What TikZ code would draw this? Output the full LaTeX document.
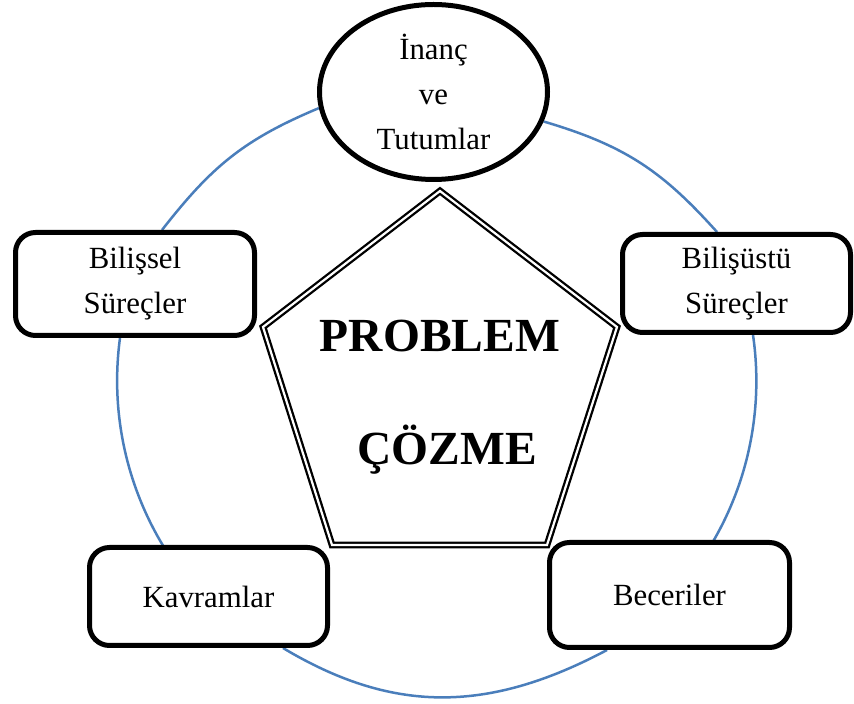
\documentclass[tikz,border=0pt]{standalone}
\usepackage{fontspec}
\setmainfont{Liberation Serif}
\usetikzlibrary{shapes.geometric}
\definecolor{arcblue}{RGB}{74,126,187}
\pgfdeclarelayer{background}
\pgfsetlayers{background,main}
\begin{document}
\begin{tikzpicture}[x=1pt,y=1pt,
  lbl/.style={font=\fontsize{30.8}{45}\selectfont, align=center},
  box/.style={lbl, draw=black, line width=5pt, rounded corners=20pt, fill=white, inner sep=0pt},
  oval/.style={lbl, ellipse, draw=black, line width=5pt, fill=white, inner sep=0pt, minimum width=228pt, minimum height=175pt},
  cyc/.style={draw=arcblue, line width=2.5pt},
  pent/.style={draw=black, line width=2.3pt, double=white, double distance=2.2pt},
  big/.style={font=\bfseries\fontsize{47.5}{57}\selectfont, inner sep=0pt}]
\useasboundingbox (0,0) rectangle (854,704);

\node[oval] (ell) at (433.5,612) {İnanç\\ve\\Tutumlar};
\node[box, minimum width=239pt, minimum height=103pt] (bis) at (135,420) {Bilişsel\\Süreçler};
\node[box, minimum width=228pt, minimum height=98pt] (bisu) at (736.5,420.5) {Bilişüstü\\Süreçler};
\node[box, minimum width=238pt, minimum height=98pt] (kav) at (208.5,107.5) {Kavramlar};
\node[box, minimum width=240pt, minimum height=105pt] (bec) at (669.5,109) {Beceriler};

\node[big, anchor=base] (prob) at (440,352) {PROBLEM};
\node[big, anchor=base] (coz) at (447,239) {ÇÖZME};

\begin{pgfonlayer}{background}
\draw[pent] (440,513) -- (617,377) -- (547,159) -- (332,159) -- (263,377) -- cycle;
\draw[cyc] (ell.188) .. controls (242.8,564) and (211.3,537) .. ([xshift=27pt]bis.north);
\draw[cyc] (ell.-15) .. controls (626.9,558) and (663.5,531.5) .. ([xshift=-19.5pt]bisu.north);
\draw[cyc] ([xshift=-15pt]bis.south) arc[start angle=172.3, end angle=212, radius=319];
\draw[cyc] ([xshift=16.5pt]bisu.south) arc[start angle=8.3, end angle=-31, radius=319];
\draw[cyc] ([xshift=74.5pt]kav.south) .. controls (390,-8) and (485,-11) .. ([xshift=-62.5pt]bec.south);
\end{pgfonlayer}
\end{tikzpicture}
\end{document}
